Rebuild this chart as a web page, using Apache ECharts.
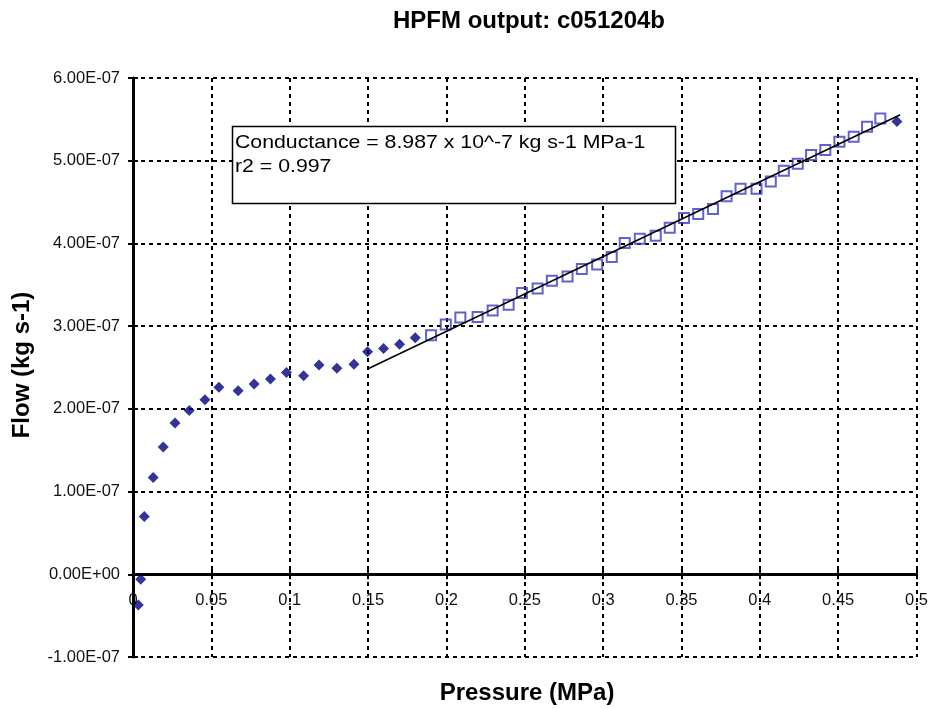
<!DOCTYPE html>
<html>
<head>
<meta charset="utf-8">
<script src="https://cdn.jsdelivr.net/npm/echarts@6/dist/echarts.min.js"></script>
<style>html,body{margin:0;padding:0;background:#fff}#c{width:931px;height:709px}</style>
</head>
<body>
<div id="c"></div>
<script>
// Flow values are in units of 1e-7 kg s-1
const FLOW_UNIT = 1e-7;
const xTicks = { min: 0, max: 0.5, interval: 0.05 };
const yTicks = { min: -1, max: 6, interval: 1 };

// excluded points (diamonds)
const diamondPressure = [0.0034,0.0049,0.0072,0.0129,0.0193,0.0268,0.0359,0.0459,0.0548,0.0671,0.0773,0.0877,0.0979,0.1089,0.1187,0.1301,0.1410,0.1497,0.1599,0.1701,0.1801,0.4875];
const diamondFlow = [-0.37,-0.06,0.70,1.17,1.54,1.83,1.98,2.11,2.26,2.22,2.30,2.36,2.44,2.40,2.53,2.49,2.54,2.69,2.73,2.78,2.86,5.475];

// points used in regression (squares)
const squarePressure = [0.1902,0.1996,0.2089,0.2199,0.2295,0.2397,0.2482,0.2582,0.2673,0.2773,0.2864,0.2962,0.3055,0.3138,0.3234,0.3336,0.3425,0.3516,0.3607,0.3701,0.3788,0.3877,0.3979,0.4070,0.4153,0.4242,0.4327,0.4418,0.4508,0.4599,0.4684,0.4769];
const squareFlow = [2.89,3.02,3.105,3.11,3.19,3.26,3.40,3.456,3.55,3.60,3.69,3.746,3.835,4.005,4.057,4.093,4.19,4.307,4.355,4.416,4.57,4.66,4.66,4.75,4.88,4.964,5.07,5.13,5.23,5.29,5.41,5.51];

// regression line endpoints
const fitPressure = [0.15, 0.4896];
const fitFlow = [2.485, 5.556];

const titleText = 'HPFM output: c051204b';
const xName = 'Pressure (MPa)';
const yName = 'Flow (kg s-1)';
const noteLines = ['Conductance = 8.987 x 10^-7 kg s-1 MPa-1', 'r2 = 0.997'];

function fmtY(v) {
  const val = v * FLOW_UNIT;
  if (Math.abs(v) < 1e-9) return '0.00E+00';
  const s = val.toExponential(2);
  const parts = s.split('e');
  let sign = parts[1][0];
  let d = parts[1].slice(1);
  if (d.length < 2) d = '0' + d;
  return parts[0] + 'E' + sign + d;
}

const zip = (a, b) => a.map((x, i) => [x, b[i]]);
const FONT = '"Liberation Sans", Arial, sans-serif';

const W = 931, H = 709;
const grid = { left: 133, right: 13, top: 78, bottom: 52 };
const plotH = H - grid.top - grid.bottom;
// x axis sits at flow = 0: shift it up from the bottom edge
const zeroOffset = -plotH * (0 - yTicks.min) / (yTicks.max - yTicks.min);

const chart = echarts.init(document.getElementById('c'), null, { renderer: 'canvas' });
const splitStyle = { show: true, lineStyle: { color: '#000', type: [4, 4], width: 2 } };

chart.setOption({
  animation: false,
  backgroundColor: '#fff',
  grid: grid,
  xAxis: [{
    type: 'value', min: xTicks.min, max: xTicks.max, interval: xTicks.interval, position: 'bottom', offset: zeroOffset,
    axisLine: { show: true, onZero: false, lineStyle: { color: '#000', width: 3 } },
    axisTick: { show: true, length: 5, lineStyle: { color: '#000', width: 2 } },
    axisLabel: { margin: 18, fontSize: 16.5, color: '#111', fontFamily: FONT },
    splitLine: splitStyle
  }, {
    type: 'value', min: xTicks.min, max: xTicks.max, interval: xTicks.interval, position: 'bottom', offset: zeroOffset,
    axisLine: { show: false, onZero: false },
    axisTick: { show: true, inside: true, length: 5, lineStyle: { color: '#000', width: 2 } },
    axisLabel: { show: false }, splitLine: { show: false }
  }],
  yAxis: [{
    type: 'value', min: yTicks.min, max: yTicks.max, interval: yTicks.interval, position: 'left',
    axisLine: { show: true, onZero: false, lineStyle: { color: '#000', width: 3 } },
    axisTick: { show: true, length: 5, lineStyle: { color: '#000', width: 2 } },
    axisLabel: { margin: 13, fontSize: 16.5, color: '#111', fontFamily: FONT, formatter: fmtY },
    splitLine: splitStyle
  }, {
    type: 'value', min: yTicks.min, max: yTicks.max, interval: yTicks.interval, position: 'left',
    axisLine: { show: false, onZero: false },
    axisTick: { show: true, inside: true, length: 5, lineStyle: { color: '#000', width: 2 } },
    axisLabel: { show: false }, splitLine: { show: false }
  }],
  series: [{
    type: 'scatter', data: zip(diamondPressure, diamondFlow), symbol: 'diamond', symbolSize: 11,
    itemStyle: { color: '#000080' }, z: 3
  }, {
    type: 'scatter', data: zip(squarePressure, squareFlow), symbol: 'rect', symbolSize: 10,
    itemStyle: { color: 'rgba(255,255,255,0)', borderColor: '#3a3ac6', borderWidth: 2 }, z: 3
  }, {
    type: 'line', data: zip(fitPressure, fitFlow), symbol: 'none',
    lineStyle: { color: '#000', width: 1.5 }, z: 4
  }],
  graphic: [
    { type: 'text', x: 529, y: 21, z: 10, style: { text: titleText, font: 'bold 24px ' + FONT, fill: '#000', align: 'center', verticalAlign: 'middle' } },
    { type: 'text', x: 527, y: 693, z: 10, style: { text: xName, font: 'bold 24px ' + FONT, fill: '#000', align: 'center', verticalAlign: 'middle' } },
    { type: 'text', x: 22, y: 365, rotation: Math.PI / 2, z: 10, style: { text: yName, font: 'bold 24px ' + FONT, fill: '#000', align: 'center', verticalAlign: 'middle' } },
    { type: 'rect', z: 20, shape: { x: 232.5, y: 126.5, width: 443, height: 77 }, style: { fill: '#fff', stroke: '#000', lineWidth: 1.5 } },
    { type: 'text', x: 235, y: 143, scaleX: 1.15, z: 21, style: { text: noteLines[0], font: '18.5px ' + FONT, fill: '#000', align: 'left', verticalAlign: 'middle' } },
    { type: 'text', x: 235, y: 167, scaleX: 1.15, z: 21, style: { text: noteLines[1], font: '18.5px ' + FONT, fill: '#000', align: 'left', verticalAlign: 'middle' } }
  ]
});
</script>
</body>
</html>
